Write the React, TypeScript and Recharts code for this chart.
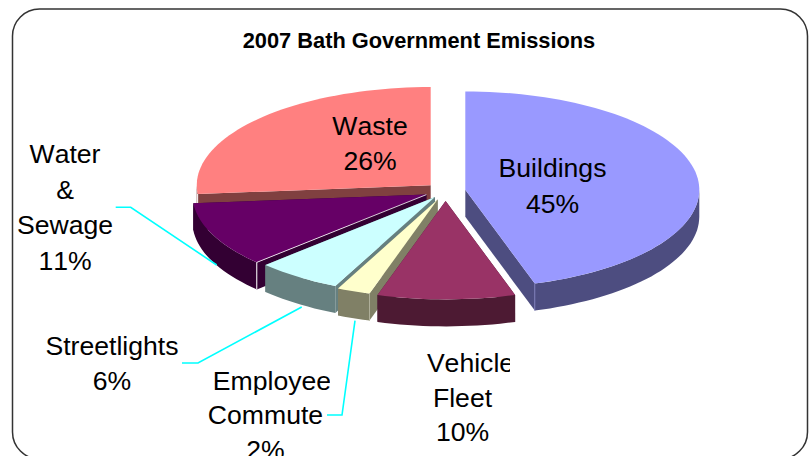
import React from 'react';
import { PieChart, Pie } from 'recharts';

// listed back to front, Pie goes counterclockwise from the top so the painter order works out
const sliceNames = ['Waste', 'Water & Sewage', 'Streetlights', 'Employee Commute', 'Vehicle Fleet', 'Buildings'];
const sliceValues = [26.4, 10.7, 5.9, 2.3, 9.5, 45.2];
const topColors = ['#FF8080', '#660066', '#CCFFFF', '#FFFFCC', '#993366', '#9999FF'];
const sideColors = ['#804040', '#330033', '#668080', '#808066', '#4D1A33', '#4D4D80'];
const edgeColors = ['#FFFFFF', '#FFFFFF', null, '#B0B09A', null, '#7C7CB8'];
const explodeBy = [20, 21, 18, 22, 24, 20];

const labelLines = [['Waste'], ['Water', '&', 'Sewage'], ['Streetlights'], ['Employee', 'Commute'], ['Vehicle', 'Fleet'], ['Buildings']];
const labelX = [370, 65, 112, 265.5, 462.5, 552.5];
const labelY = [134.5, 163, 355, 389.5, 372, 177];
const lineHeights = [35, 35.5, 35, 34.5, 34.5, 35.5];
const firstLineShift = [0, 0, 0, 6.5, 8, 0];
const leaderLines = [null, '115.7,207.3 130.7,207.3 216.7,265', '182,363 198,363 301.7,307', '327,415 342,415 355,320.7', null, null];

const WIDTH = 812;
const HEIGHT = 456;
const CX = 445.5;
const CY = 191;
const RADIUS = 234;
const TILT = 0.42;
const DEPTH = 27;

const data = sliceNames.map((name, i) => ({ name, value: sliceValues[i], fill: topColors[i] }));

const rad = (a: number) => (a * Math.PI) / 180;

const SliceShape = (props: any) => {
  const { startAngle, endAngle, outerRadius, index } = props;
  const from = Math.min(startAngle, endAngle);
  const to = Math.max(startAngle, endAngle);
  const mid = (from + to) / 2;
  const ox = CX + explodeBy[index] * Math.cos(rad(mid));
  const oy = CY - explodeBy[index] * TILT * Math.sin(rad(mid));
  const pt = (a: number, drop = 0) => [ox + outerRadius * Math.cos(rad(a)), oy - outerRadius * TILT * Math.sin(rad(a)) + drop];
  const arcPoints = (a: number, b: number, drop = 0) => {
    const pts = [];
    const steps = Math.max(2, Math.ceil((b - a) / 2));
    for (let i = 0; i <= steps; i++) pts.push(pt(a + ((b - a) * i) / steps, drop));
    return pts;
  };
  const toPath = (pts: number[][]) => 'M' + pts.map((p) => p[0].toFixed(1) + ',' + p[1].toFixed(1)).join('L') + 'Z';

  const side = sideColors[index];
  const radialWall = (a: number) => {
    const p = pt(a);
    return toPath([[ox, oy], p, [p[0], p[1] + DEPTH], [ox, oy + DEPTH]]);
  };
  const wallFrom = Math.max(from, 180);
  const wallTo = Math.min(to, 360);
  const hasWall = wallTo > wallFrom;
  const outerWall = hasWall
    ? toPath([...arcPoints(wallFrom, wallTo), ...arcPoints(wallFrom, wallTo, DEPTH).reverse()])
    : null;

  // thin highlight on the wall corner nearest the middle of the pie
  const corners = [from, to].filter((a) => a >= 180 && a <= 360);
  const corner = corners.sort((a, b) => Math.abs(pt(a)[0] - ox) - Math.abs(pt(b)[0] - ox))[0];
  const edge = edgeColors[index];

  return (
    <g>
      <path d={radialWall(from)} fill={side} />
      <path d={radialWall(to)} fill={side} />
      {outerWall && <path d={outerWall} fill={side} />}
      <path d={toPath([[ox, oy], ...arcPoints(from, to)])} fill={topColors[index]} />
      {edge && corner !== undefined && (
        <line x1={pt(corner)[0]} y1={pt(corner)[1]} x2={pt(corner)[0]} y2={pt(corner)[1] + DEPTH} stroke={edge} strokeWidth={1} />
      )}
      {index === 1 && <line x1={ox} y1={oy} x2={pt(to)[0]} y2={pt(to)[1]} stroke="#FFFFFF" strokeWidth={0.8} />}
    </g>
  );
};

const SliceLabel = (props: any) => {
  const { index, value } = props;
  const lines = [...labelLines[index], Math.round(value) + '%'];
  const leader = leaderLines[index];
  const clip = index === 3 ? 'url(#clipCommute)' : index === 4 ? 'url(#clipFleet)' : undefined;
  return (
    <g>
      {leader && <polyline points={leader} fill="none" stroke="#00FFFF" strokeWidth={1.6} />}
      <g clipPath={clip}>
        {lines.map((line, i) => (
          <text
            key={line}
            x={labelX[index] + (i === 0 ? firstLineShift[index] : 0)}
            y={labelY[index] + i * lineHeights[index]}
            textAnchor="middle"
            fontFamily="Liberation Sans"
            fontSize={26.6}
            fill="#000000"
            style={{ fontKerning: 'none' }}
          >
            {line}
          </text>
        ))}
      </g>
    </g>
  );
};

export default function App() {
  return (
    <div style={{ position: 'absolute', left: 0, top: 0, width: WIDTH, height: HEIGHT, overflow: 'hidden', background: '#fff' }}>
      <PieChart width={WIDTH} height={HEIGHT} margin={{ top: 0, right: 0, bottom: 0, left: 0 }}>
        <defs>
          <clipPath id="clipCommute">
            <rect x={190} y={360} width={140} height={96} />
          </clipPath>
          <clipPath id="clipFleet">
            <rect x={400} y={340} width={110} height={116} />
          </clipPath>
        </defs>
        <rect x={12.5} y={9} width={795} height={450} rx={27} ry={27} fill="#FFFFFF" stroke="#333333" strokeWidth={1.5} />
        <text x={419} y={48} textAnchor="middle" fontFamily="Liberation Sans" fontWeight="bold" fontSize={21.8} fill="#000000" style={{ fontKerning: 'none' }}>
          2007 Bath Government Emissions
        </text>
        <Pie
          data={data}
          dataKey="value"
          nameKey="name"
          cx={CX}
          cy={CY}
          innerRadius={0}
          outerRadius={RADIUS}
          startAngle={90}
          endAngle={450}
          stroke="none"
          shape={SliceShape}
          label={SliceLabel}
          labelLine={false}
          isAnimationActive={false}
        />
      </PieChart>
    </div>
  );
}
